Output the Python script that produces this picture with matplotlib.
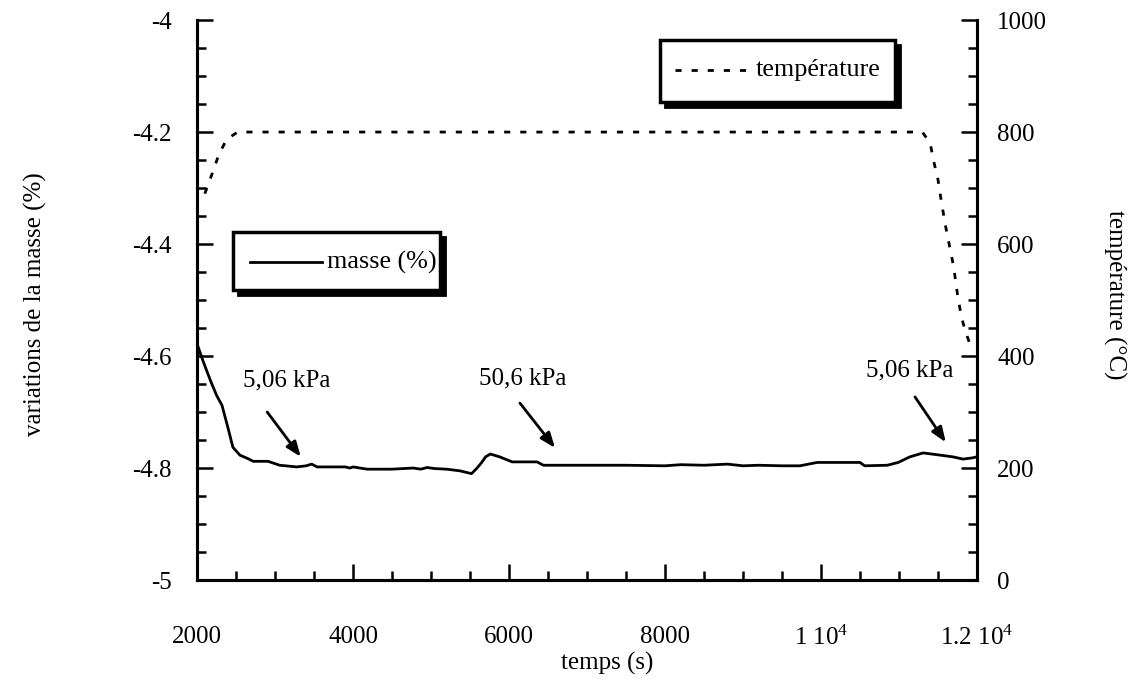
import matplotlib
matplotlib.use("Agg")
import matplotlib.pyplot as plt
import matplotlib.transforms as mtransforms
from matplotlib.patches import Rectangle
from matplotlib.lines import Line2D
from matplotlib.ticker import MultipleLocator, FixedLocator, FixedFormatter

plt.rcParams["font.family"] = ["Liberation Serif", "DejaVu Serif"]
plt.rcParams["mathtext.default"] = "regular"

# mass curve (%)
mass_t = [2000, 2080, 2170, 2250, 2320, 2400, 2460, 2550, 2650, 2720,
          2910, 3060, 3280, 3400, 3470, 3540, 3700, 3900, 3960, 4000,
          4180, 4500, 4770, 4870, 4950, 5050, 5200, 5370, 5520, 5590,
          5650, 5700, 5760, 5880, 6040, 6360, 6440, 6700, 7000, 7500,
          8000, 8200, 8500, 8800, 9000, 9200, 9500, 9730, 9950, 10500,
          10560, 10850, 10990, 11140, 11310, 11530, 11690, 11820, 11935, 12000]
mass = [-4.578, -4.61, -4.643, -4.67, -4.688, -4.73, -4.763, -4.777, -4.783, -4.788,
        -4.788, -4.795, -4.798, -4.796, -4.793, -4.798, -4.798, -4.798, -4.800, -4.798,
        -4.802, -4.802, -4.800, -4.802, -4.799, -4.801, -4.802, -4.805, -4.81, -4.80,
        -4.79, -4.78, -4.775, -4.78, -4.789, -4.789, -4.795, -4.795, -4.795, -4.795,
        -4.796, -4.794, -4.795, -4.793, -4.796, -4.795, -4.796, -4.796, -4.79, -4.79,
        -4.796, -4.795, -4.79, -4.78, -4.773, -4.777, -4.78, -4.784, -4.782, -4.78]

# temperature curve (°C)
temp_t = [2100, 2200, 2280, 2380, 2520, 11300, 11400, 11450, 11500, 11550,
          11600, 11650, 11700, 11750, 11800, 11850, 11900, 11950]
temp = [690, 728, 760, 787, 800, 800, 780, 745, 715, 670,
        630, 595, 560, 510, 470, 445, 425, 415]

x_ticks = [2000, 4000, 6000, 8000, 10000, 12000]
x_labels = ["2000", "4000", "6000", "8000", "1 10$^4$", "1.2 10$^4$"]
left_ticks = [-5, -4.8, -4.6, -4.4, -4.2, -4]
left_labels = ["-5", "-4.8", "-4.6", "-4.4", "-4.2", "-4"]
right_ticks = [0, 200, 400, 600, 800, 1000]

# (label, text position, arrow tail, arrow head)
notes = [
    ("5,06 kPa", (3150, -4.643), (2900, -4.700), (3330, -4.780)),
    ("50,6 kPa", (6170, -4.640), (6140, -4.684), (6590, -4.764)),
    ("5,06 kPa", (11140, -4.625), (11205, -4.673), (11600, -4.754)),
]

fs = 18
fig = plt.figure(figsize=(11.33, 6.8), dpi=100)
ax = fig.add_axes([0.1739, 0.147, 0.6884, 0.8235])
ax2 = ax.twinx()

ax.plot(mass_t, mass, color="k", lw=2)
ax2.plot(temp_t, temp, color="k", lw=2, dashes=(2.2, 3.6))

ax.set_xlim(2000, 12000)
ax.set_ylim(-5, -4)
ax2.set_ylim(0, 1000)

for a in (ax, ax2):
    a.spines["top"].set_visible(False)
    for s in ("left", "right", "bottom"):
        a.spines[s].set_linewidth(2.2)

ax.xaxis.set_major_locator(FixedLocator(x_ticks))
ax.xaxis.set_major_formatter(FixedFormatter(x_labels))
ax.xaxis.set_minor_locator(MultipleLocator(500))
ax.yaxis.set_major_locator(FixedLocator(left_ticks))
ax.yaxis.set_major_formatter(FixedFormatter(left_labels))
ax.yaxis.set_minor_locator(MultipleLocator(0.05))
ax2.yaxis.set_major_locator(FixedLocator(right_ticks))
ax2.yaxis.set_minor_locator(MultipleLocator(50))

ax.tick_params(which="major", direction="in", length=11.5, width=1.8, labelsize=fs)
ax.tick_params(which="minor", direction="in", length=6.5, width=1.8)
ax.tick_params(axis="x", which="major", pad=33)
ax.tick_params(axis="y", which="major", pad=18)
ax.tick_params(axis="x", which="both", top=False)
ax.tick_params(axis="y", which="both", right=False)
ax2.tick_params(which="major", direction="in", length=11.5, width=1.8, labelsize=fs, pad=14.5)
ax2.tick_params(which="minor", direction="in", length=6.5, width=1.8)

ax.set_xlabel("temps (s)", fontsize=fs)
ax.xaxis.set_label_coords(0.526, -0.128)
ax.set_ylabel("variations de la masse (%)", fontsize=fs)
ax.yaxis.set_label_coords(-0.192, 0.493)
ax2.set_ylabel("température (°C)", fontsize=fs, rotation=270, va="center")
ax2.yaxis.set_label_coords(1.176, 0.509)

for label, txt, tail, head in notes:
    ax.text(txt[0], txt[1], label, fontsize=fs, ha="center", va="center")
    ax.annotate("", xy=head, xytext=tail,
                arrowprops=dict(arrowstyle="-|>,head_length=0.9,head_width=0.35",
                                lw=2, color="k", shrinkA=0, shrinkB=0))

# legend boxes with a heavy drop shadow, as in the original
shadow_tr = mtransforms.offset_copy(ax.transAxes, fig=fig, x=5, y=-5, units="dots")
boxes = [
    ((0.594, 0.854), 0.301, 0.110, (0.613, 0.712), 0.911, 0.716, "température", True),
    ((0.046, 0.518), 0.266, 0.103, (0.068, 0.160), 0.568, 0.166, "masse (%)", False),
]
for (bx, by), bw, bh, (lx0, lx1), ly, tx, text, dashed in boxes:
    ax.add_patch(Rectangle((bx, by), bw, bh, transform=shadow_tr, facecolor="k",
                           edgecolor="k", lw=2, zorder=5, clip_on=False))
    ax.add_patch(Rectangle((bx, by), bw, bh, transform=ax.transAxes, facecolor="w",
                           edgecolor="k", lw=2.5, zorder=6, clip_on=False))
    ln = Line2D([lx0, lx1], [ly, ly], transform=ax.transAxes, color="k", lw=2, zorder=7)
    if dashed:
        ln.set_dashes((2.2, 3.6))
    ax.add_line(ln)
    ax.text(tx, ly, text, transform=ax.transAxes, fontsize=18.8, va="center", ha="left", zorder=7)

fig.savefig("out.png", dpi=100)
